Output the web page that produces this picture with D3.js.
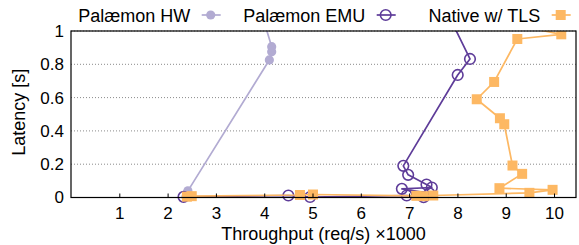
<!DOCTYPE html>
<html>
<head>
<meta charset="utf-8">
<script src="https://cdn.jsdelivr.net/npm/d3@7"></script>
<style>
  html, body { margin: 0; padding: 0; background: #fff; }
  svg { display: block; }
  text { font-family: "Liberation Sans", Arial, Helvetica, sans-serif; fill: #000; }
</style>
</head>
<body>
<svg id="chart" width="579" height="245"></svg>
<script>
// ---- data (throughput in req/s ×1000, latency in s) ----
const seriesNames = ["Palæmon HW", "Palæmon EMU", "Native w/ TLS"];
const hwX  = [2.38, 2.41, 2.42, 4.106, 4.155, 4.155, 3.93];
const hwY  = [0.005, 0.02, 0.04, 0.826, 0.876, 0.906, 1.12];
const emuX = [2.33, 4.50, 4.95, 6.95, 7.30, 7.42, 6.85, 7.47, 7.36, 6.98, 6.88, 8.006, 8.26, 7.64];
const emuY = [0.004, 0.012, 0.003, 0.012, 0.002, 0.025, 0.052, 0.060, 0.078, 0.136, 0.19, 0.736, 0.832, 1.2];
const natX = [2.40, 2.50, 4.74, 5.01, 7.15, 7.30, 7.50, 9.49, 9.97, 8.87, 9.34, 9.14, 8.97, 8.88, 8.40, 8.76, 9.24, 10.15, 9.30];
const natY = [0.005, 0.008, 0.015, 0.018, 0.010, 0.008, 0.012, 0.028, 0.046, 0.056, 0.142, 0.192, 0.44, 0.476, 0.59, 0.694, 0.952, 0.98, 1.03];
const xTicks = [1, 2, 3, 4, 5, 6, 7, 8, 9, 10];
const yTicks = [0, 0.2, 0.4, 0.6, 0.8, 1];
const yTickLabels = ["0", "0.2", "0.4", "0.6", "0.8", "1"];
const xDomain = [0, 10.455];
const yDomain = [0, 1];
const colors = ["#b2abd2", "#5e3c99", "#fdb863"];

// ---- layout ----
const svg = d3.select("#chart");
const L = 71, R = 576, T = 31, B = 197.5;
const x = d3.scaleLinear().domain(xDomain).range([L, R]);
const y = d3.scaleLinear().domain(yDomain).range([B, T]);

// grid
svg.append("g").selectAll("line").data(yTicks).join("line")
  .attr("x1", L).attr("x2", R)
  .attr("y1", d => y(d)).attr("y2", d => y(d))
  .attr("stroke", "#8a8a8a").attr("stroke-width", 1)
  .attr("stroke-dasharray", "1,2");

// clip (only top limited)
svg.append("clipPath").attr("id", "clip").append("rect")
  .attr("x", 0).attr("y", T).attr("width", 579).attr("height", 245 - T);

const plot = svg.append("g").attr("clip-path", "url(#clip)");

const zip = (xs, ys) => xs.map((v, i) => [v, ys[i]]);
const series = [zip(hwX, hwY), zip(emuX, emuY), zip(natX, natY)];
const line = d3.line().x(d => x(d[0])).y(d => y(d[1]));

function drawMarker(g, type, cx, cy, color) {
  if (type === 0) {
    g.append("circle").attr("cx", cx).attr("cy", cy).attr("r", 4.6).attr("fill", color);
  } else if (type === 1) {
    g.append("circle").attr("cx", cx).attr("cy", cy).attr("r", 5.3)
      .attr("fill", "none").attr("stroke", color).attr("stroke-width", 1.6);
  } else {
    g.append("rect").attr("x", cx - 5).attr("y", cy - 5).attr("width", 10).attr("height", 10)
      .attr("fill", color);
  }
}

series.forEach((pts, si) => {
  const g = plot.append("g");
  g.append("path").datum(pts).attr("d", line)
    .attr("fill", "none").attr("stroke", colors[si]).attr("stroke-width", 1.7)
    .attr("stroke-linejoin", "round");
  pts.filter(p => p[1] <= 1).forEach(p => drawMarker(g, si, x(p[0]), y(p[1]), colors[si]));
});

// border
svg.append("rect").attr("x", L).attr("y", T).attr("width", R - L).attr("height", B - T)
  .attr("fill", "none").attr("stroke", "#000").attr("stroke-width", 1.2);

// x ticks
const xAxis = d3.axisBottom(x).tickValues(xTicks).tickSizeInner(-4).tickSizeOuter(0).tickPadding(9)
  .tickFormat(d3.format("d"));
const gx = svg.append("g").attr("transform", `translate(0,${B})`).call(xAxis);
gx.select(".domain").remove();
gx.selectAll(".tick line").attr("stroke", "#000").attr("stroke-width", 1);
gx.selectAll(".tick text").attr("font-size", 17).attr("font-family", "Liberation Sans, Arial, sans-serif").attr("fill", "#000");

// y ticks
const yAxis = d3.axisLeft(y).tickValues(yTicks).tickSize(0).tickPadding(7)
  .tickFormat((d, i) => yTickLabels[i]);
const gy = svg.append("g").attr("transform", `translate(${L},0)`).call(yAxis);
gy.select(".domain").remove();
gy.selectAll(".tick text").attr("font-size", 17).attr("font-family", "Liberation Sans, Arial, sans-serif").attr("fill", "#000");

// axis titles
svg.append("text").attr("x", (L + R) / 2).attr("y", 239.5).attr("text-anchor", "middle")
  .attr("font-size", 18).text("Throughput (req/s) ×1000");
svg.append("text").attr("transform", `translate(24.5,${(T + B) / 2 - 2}) rotate(-90)`)
  .attr("text-anchor", "middle").attr("font-size", 18).text("Latency [s]");

// legend
const legendEnds = [190.3, 365.3, 540.3];
const lg = svg.append("g");
seriesNames.forEach((name, i) => {
  const ex = legendEnds[i];
  lg.append("text").attr("x", ex).attr("y", 21.7).attr("text-anchor", "end")
    .attr("font-size", 18).text(name);
  lg.append("line").attr("x1", ex + 11.4).attr("x2", ex + 30.4).attr("y1", 15).attr("y2", 15)
    .attr("stroke", colors[i]).attr("stroke-width", 1.7);
  drawMarker(lg, i, ex + 20.4, 15, colors[i]);
});
</script>
</body>
</html>
